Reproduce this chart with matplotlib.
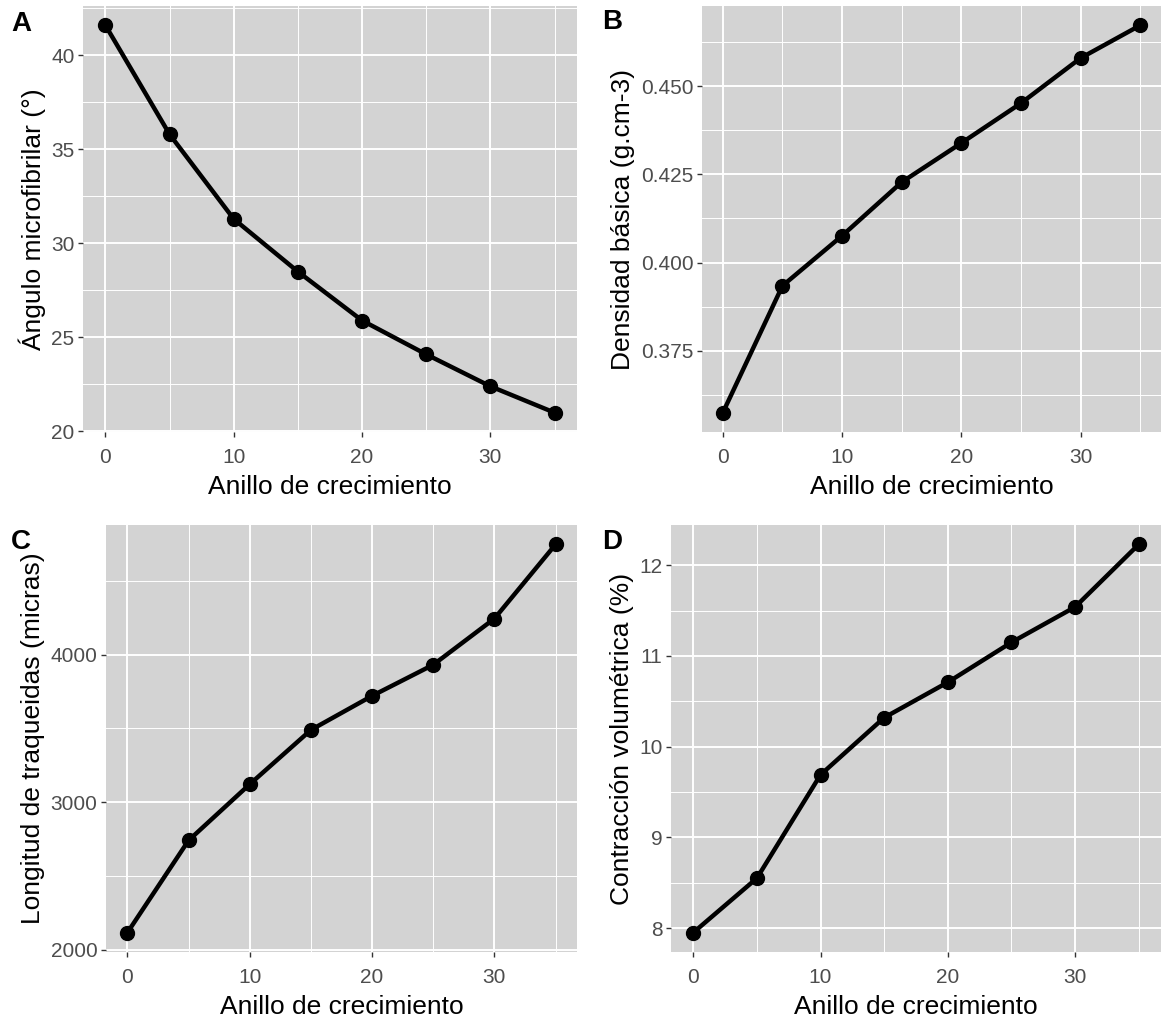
import matplotlib
matplotlib.use("Agg")
import matplotlib.pyplot as plt
from matplotlib.ticker import MultipleLocator, AutoMinorLocator

plt.rcParams['font.family'] = ['Liberation Sans', 'DejaVu Sans']

# Data
anillo = [0, 5, 10, 15, 20, 25, 30, 35]
angulo = [41.6, 35.8, 31.3, 28.5, 25.9, 24.1, 22.4, 21.0]
densidad = [0.3574, 0.3934, 0.4076, 0.4228, 0.4339, 0.4452, 0.4580, 0.4673]
longitud = [2116, 2741, 3122, 3490, 3721, 3932, 4245, 4748]
contraccion = [7.95, 8.55, 9.69, 10.32, 10.71, 11.15, 11.54, 12.23]

xlabel = 'Anillo de crecimiento'
ylabels = ['Ángulo microfibrilar (°)', 'Densidad básica (g.cm-3)',
           'Longitud de traqueidas (micras)', 'Contracción volumétrica (%)']
letters = ['A', 'B', 'C', 'D']
ysteps = [5, 0.025, 1000, 1]
series = [angulo, densidad, longitud, contraccion]

W, H = 1162, 1022
fig = plt.figure(figsize=(W / 100, H / 100), dpi=100)

# panel boxes in pixels: left, right, top, bottom
boxes = [(83, 577, 6, 432), (702, 1161, 6, 432),
         (106, 577, 525, 952), (671, 1161, 525, 952)]
letter_pos = [(11, 11), (602, 9), (11, 529), (602, 529)]

for i, (vals, box) in enumerate(zip(series, boxes)):
    l, r, t, b = box
    ax = fig.add_axes([l / W, 1 - b / H, (r - l) / W, (b - t) / H])
    ax.set_facecolor('#D3D3D3')
    for s in ax.spines.values():
        s.set_visible(False)
    ax.plot(anillo, vals, color='black', linewidth=3.2, marker='o',
            markersize=10, solid_capstyle='round', zorder=3)
    ax.margins(0.05)
    ax.xaxis.set_major_locator(MultipleLocator(10))
    ax.xaxis.set_minor_locator(AutoMinorLocator(2))
    ax.yaxis.set_major_locator(MultipleLocator(ysteps[i]))
    ax.yaxis.set_minor_locator(AutoMinorLocator(2))
    if i == 1:
        ax.yaxis.set_major_formatter(lambda v, p: f'{v:.3f}')
    else:
        ax.yaxis.set_major_formatter(lambda v, p: f'{v:g}')
    ax.grid(which='major', color='white', linewidth=1.4)
    ax.grid(which='minor', color='white', linewidth=0.7)
    ax.set_axisbelow(True)
    ax.tick_params(which='major', length=3.6, width=1, color='#333333',
                   labelsize=15, labelcolor='#4D4D4D')
    ax.tick_params(axis='x', which='major', pad=8)
    ax.tick_params(axis='y', which='major', pad=2.5)
    ax.tick_params(which='minor', length=0)
    ax.set_xlabel(xlabel, fontsize=19, labelpad=6)
    ax.set_ylabel(ylabels[i], fontsize=19, labelpad=4)
    fig.text(letter_pos[i][0] / W, 1 - letter_pos[i][1] / H, letters[i],
             fontsize=20, fontweight='bold', va='top', ha='left')

fig.savefig('out.png', dpi=100)
